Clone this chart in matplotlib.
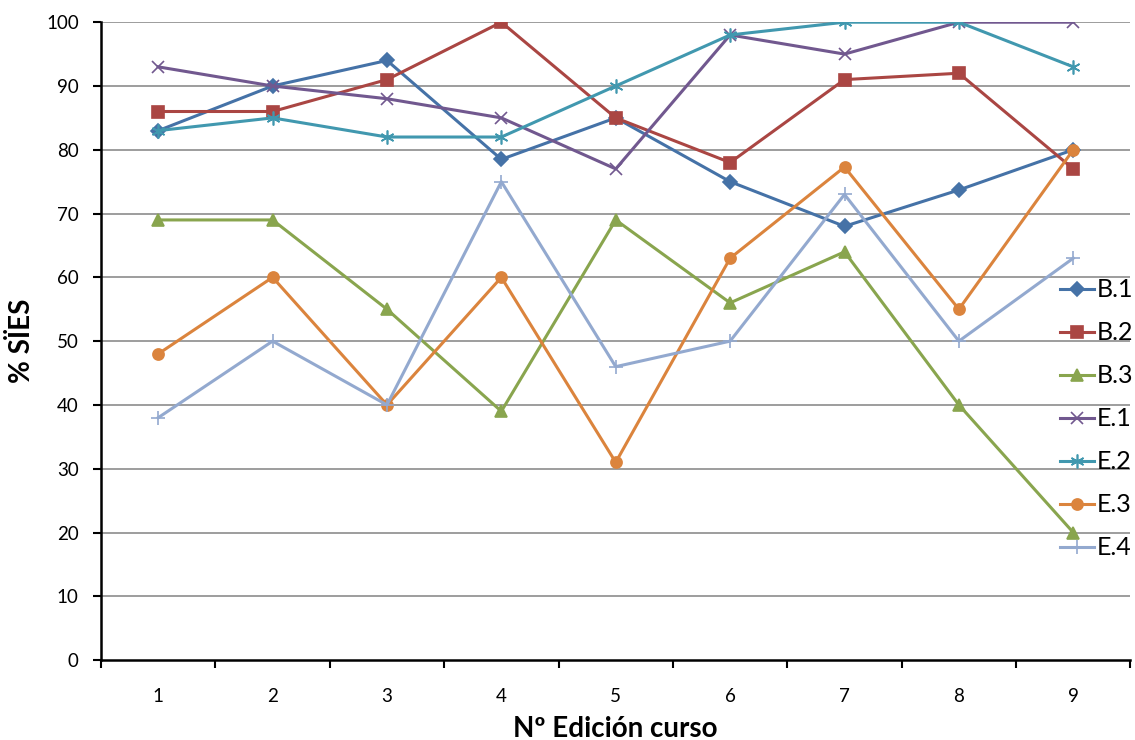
import matplotlib.pyplot as plt
import numpy as np

plt.rcParams['font.family'] = ['Lato', 'DejaVu Sans']

# Data
editions = [1, 2, 3, 4, 5, 6, 7, 8, 9]
b1 = [83, 90, 94, 78.5, 85, 75, 68, 73.7, 80]
b2 = [86, 86, 91, 100, 85, 78, 91, 92, 77]
b3 = [69, 69, 55, 39, 69, 56, 64, 40, 20]
e1 = [93, 90, 88, 85, 77, 98, 95, 100, 100]
e2 = [83, 85, 82, 82, 90, 98, 100, 100, 93]
e3 = [48, 60, 40, 60, 31, 63, 77.3, 55, 80]
e4 = [38, 50, 40, 75, 46, 50, 73, 50, 63]

series = [
    ("B.1", b1, '#4572A7', 'D', 7),
    ("B.2", b2, '#AA4643', 's', 8),
    ("B.3", b3, '#89A54E', '^', 8),
    ("E.1", e1, '#71588F', 'x', 8),
    ("E.2", e2, '#4198AF', (6, 2, 0), 10),
    ("E.3", e3, '#DB843D', 'o', 8),
    ("E.4", e4, '#93A9CF', '+', 10),
]

fig = plt.figure(figsize=(11.35, 7.4), dpi=100)
ax = fig.add_axes([0.089, 0.108, 0.907, 0.862])

for y in range(10, 101, 10):
    ax.axhline(y=y, color='#8c8c8c', lw=1.2, zorder=0)

for name, vals, col, mk, ms in series:
    ax.plot(editions, vals, color=col, lw=2.2, marker=mk, markersize=ms,
            markeredgecolor=col, markerfacecolor=col, markeredgewidth=1.2,
            label=name, zorder=3)

ax.set_xlim(0.5, 9.5)
ax.set_ylim(0, 100)
ax.set_yticks(range(0, 101, 10))
ax.set_xticks(editions)
ax.set_xticks(np.arange(0.5, 9.6, 1), minor=True)
ax.tick_params(axis='x', which='major', length=0, labelsize=13.5, pad=20)
ax.tick_params(axis='x', which='minor', length=6, width=1.5, direction='out')
ax.tick_params(axis='y', length=6, width=1.5, labelsize=13.5, pad=10)

for side in ['top', 'right']:
    ax.spines[side].set_visible(False)
for side in ['left', 'bottom']:
    ax.spines[side].set_linewidth(1.8)

ax.set_ylabel('% SÏES', fontsize=20, fontweight='bold', labelpad=8)
ax.set_xlabel('Nº Edición curso', fontsize=20, fontweight='bold', labelpad=8)

ax.legend(loc='center left', bbox_to_anchor=(0.932, 0.378), frameon=False,
          fontsize=18, handlelength=1.35, labelspacing=0.8, handletextpad=0.1,
          borderaxespad=0, borderpad=0)

fig.savefig('out.png', dpi=100)
